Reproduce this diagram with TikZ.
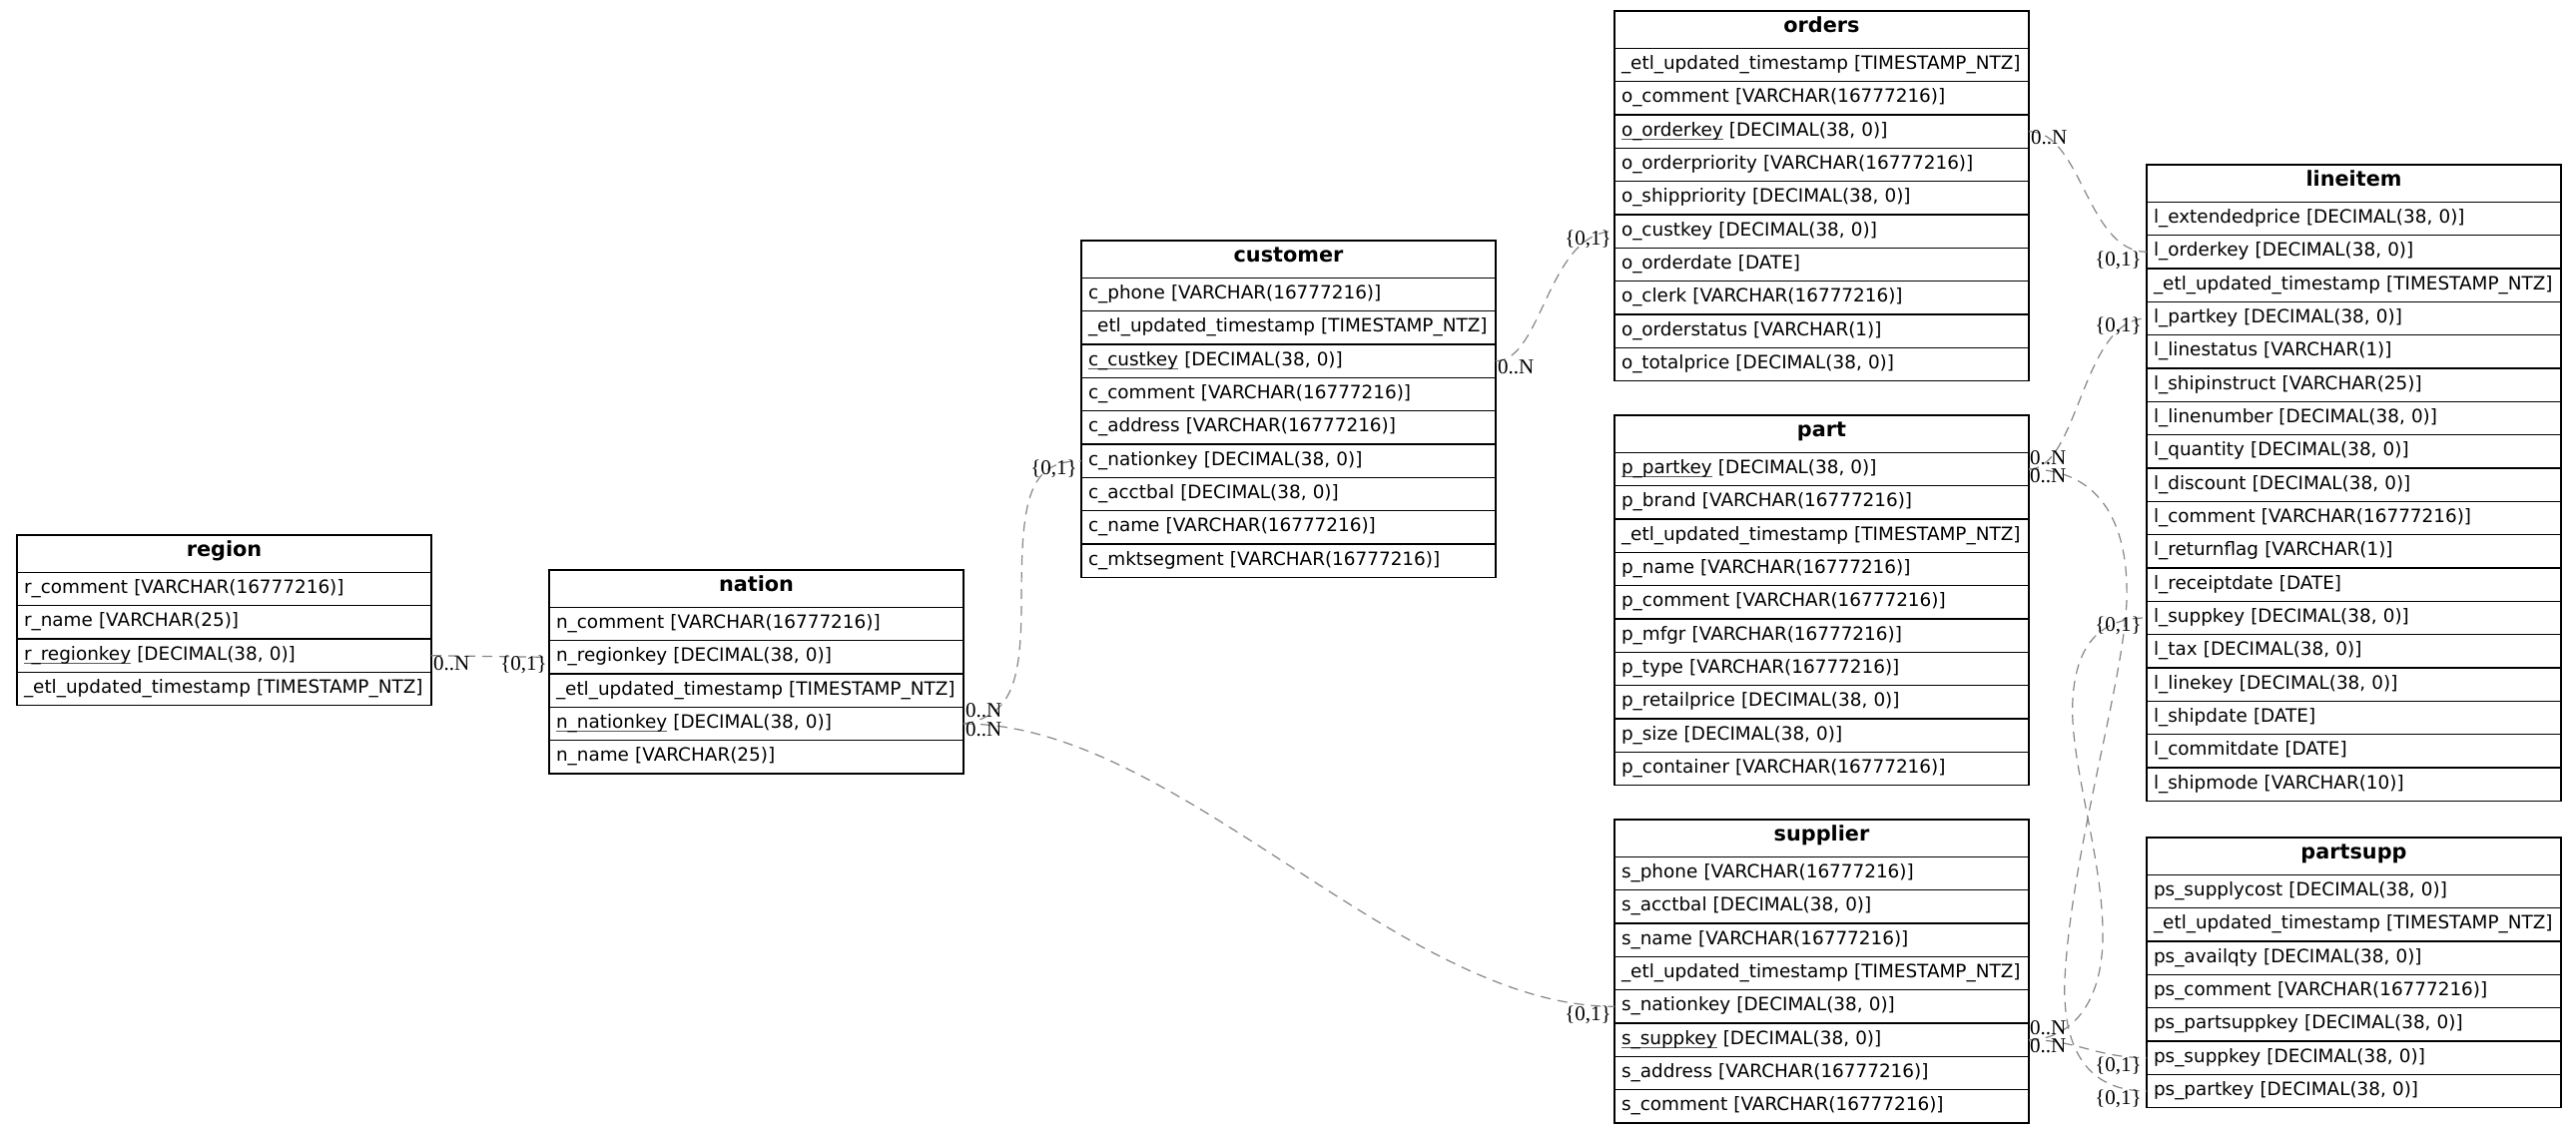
\documentclass[tikz,border=0pt]{standalone}
\usepackage{fontspec}
\setmainfont{DejaVu Sans}
\newfontfamily\cardfont{Liberation Serif}
\usetikzlibrary{calc}

\definecolor{relgray}{RGB}{135,135,135}
\definecolor{keygray}{RGB}{90,90,90}

% underlined primary key column name
\newsavebox\pkbox
\newcommand\pkey[1]{\leavevmode\sbox\pkbox{#1}\rlap{\textcolor{keygray}{\rule[-3.6pt]{\wd\pkbox}{1.2pt}}}\usebox\pkbox}

\tikzset{
  cell/.style={draw=black, line width=1.3pt, minimum width=415pt, inner xsep=7pt, inner ysep=0pt, outer sep=0pt},
  headcell/.style={cell, minimum height=37.33pt, text width=401pt, align=center,
    text height=15pt, text depth=9pt, font=\fontsize{20.8}{24}\selectfont\bfseries},
  rowcell/.style={cell, minimum height=33.33pt, text width=401pt, align=left,
    text height=13.5pt, text depth=4.5pt, font=\fontsize{18.4}{22}\selectfont},
  rel/.style={draw=relgray, line width=1.2pt, dash pattern=on 10pt off 7pt},
  card/.style={inner sep=0pt, font=\cardfont\fontsize{21}{24}\selectfont},
}

% a table: name, left x, top y, title, list of column rows
\newcommand\erdtable[5]{%
  \node[headcell, anchor=north west] (#1) at (#2,#3) {#4};
  \foreach \txt [count=\i] in {#5} {
    \pgfmathsetmacro\rowtop{#3+37.33+(\i-1)*33.33}
    \node[rowcell, anchor=north west] (#1-\i) at (#2,\rowtop) {\txt};
  }%
}

\begin{document}
\begin{tikzpicture}[x=1pt,y=-1pt]
\fill[white] (0,0) rectangle (2580,1136);
\useasboundingbox (0,0) rectangle (2580,1136);

\erdtable{region}{17}{536}{region}{%
  {r\_comment [VARCHAR(16777216)]},
  {r\_name [VARCHAR(25)]},
  {\pkey{r\_regionkey} [DECIMAL(38, 0)]},
  {\_etl\_updated\_timestamp [TIMESTAMP\_NTZ]}}

\erdtable{nation}{550}{571}{nation}{%
  {n\_comment [VARCHAR(16777216)]},
  {n\_regionkey [DECIMAL(38, 0)]},
  {\_etl\_updated\_timestamp [TIMESTAMP\_NTZ]},
  {\pkey{n\_nationkey} [DECIMAL(38, 0)]},
  {n\_name [VARCHAR(25)]}}

\erdtable{customer}{1083}{241}{customer}{%
  {c\_phone [VARCHAR(16777216)]},
  {\_etl\_updated\_timestamp [TIMESTAMP\_NTZ]},
  {\pkey{c\_custkey} [DECIMAL(38, 0)]},
  {c\_comment [VARCHAR(16777216)]},
  {c\_address [VARCHAR(16777216)]},
  {c\_nationkey [DECIMAL(38, 0)]},
  {c\_acctbal [DECIMAL(38, 0)]},
  {c\_name [VARCHAR(16777216)]},
  {c\_mktsegment [VARCHAR(16777216)]}}

\erdtable{orders}{1617}{11}{orders}{%
  {\_etl\_updated\_timestamp [TIMESTAMP\_NTZ]},
  {o\_comment [VARCHAR(16777216)]},
  {\pkey{o\_orderkey} [DECIMAL(38, 0)]},
  {o\_orderpriority [VARCHAR(16777216)]},
  {o\_shippriority [DECIMAL(38, 0)]},
  {o\_custkey [DECIMAL(38, 0)]},
  {o\_orderdate [DATE]},
  {o\_clerk [VARCHAR(16777216)]},
  {o\_orderstatus [VARCHAR(1)]},
  {o\_totalprice [DECIMAL(38, 0)]}}

\erdtable{part}{1617}{416}{part}{%
  {\pkey{p\_partkey} [DECIMAL(38, 0)]},
  {p\_brand [VARCHAR(16777216)]},
  {\_etl\_updated\_timestamp [TIMESTAMP\_NTZ]},
  {p\_name [VARCHAR(16777216)]},
  {p\_comment [VARCHAR(16777216)]},
  {p\_mfgr [VARCHAR(16777216)]},
  {p\_type [VARCHAR(16777216)]},
  {p\_retailprice [DECIMAL(38, 0)]},
  {p\_size [DECIMAL(38, 0)]},
  {p\_container [VARCHAR(16777216)]}}

\erdtable{supplier}{1617}{821}{supplier}{%
  {s\_phone [VARCHAR(16777216)]},
  {s\_acctbal [DECIMAL(38, 0)]},
  {s\_name [VARCHAR(16777216)]},
  {\_etl\_updated\_timestamp [TIMESTAMP\_NTZ]},
  {s\_nationkey [DECIMAL(38, 0)]},
  {\pkey{s\_suppkey} [DECIMAL(38, 0)]},
  {s\_address [VARCHAR(16777216)]},
  {s\_comment [VARCHAR(16777216)]}}

\erdtable{lineitem}{2150}{165}{lineitem}{%
  {l\_extendedprice [DECIMAL(38, 0)]},
  {l\_orderkey [DECIMAL(38, 0)]},
  {\_etl\_updated\_timestamp [TIMESTAMP\_NTZ]},
  {l\_partkey [DECIMAL(38, 0)]},
  {l\_linestatus [VARCHAR(1)]},
  {l\_shipinstruct [VARCHAR(25)]},
  {l\_linenumber [DECIMAL(38, 0)]},
  {l\_quantity [DECIMAL(38, 0)]},
  {l\_discount [DECIMAL(38, 0)]},
  {l\_comment [VARCHAR(16777216)]},
  {l\_returnflag [VARCHAR(1)]},
  {l\_receiptdate [DATE]},
  {l\_suppkey [DECIMAL(38, 0)]},
  {l\_tax [DECIMAL(38, 0)]},
  {l\_linekey [DECIMAL(38, 0)]},
  {l\_shipdate [DATE]},
  {l\_commitdate [DATE]},
  {l\_shipmode [VARCHAR(10)]}}

\erdtable{partsupp}{2150}{839}{partsupp}{%
  {ps\_supplycost [DECIMAL(38, 0)]},
  {\_etl\_updated\_timestamp [TIMESTAMP\_NTZ]},
  {ps\_availqty [DECIMAL(38, 0)]},
  {ps\_comment [VARCHAR(16777216)]},
  {ps\_partsuppkey [DECIMAL(38, 0)]},
  {ps\_suppkey [DECIMAL(38, 0)]},
  {ps\_partkey [DECIMAL(38, 0)]}}

% bend points of the longer relations
\coordinate (w1) at (1023,600);
\coordinate (w2) at (2130,600);
\coordinate (w3) at (2068,980);
\coordinate (w4) at (2106,930);
\coordinate (w5) at (2076,700);

% relations
\draw[rel] (region-3.east) -- (nation-2.west);
\draw[rel] (nation-4.east) .. controls +(50,-8) and +(0,80) .. (w1)
  .. controls +(0,-100) and +(-53,0) .. (customer-6.west);
\draw[rel] (nation-4.east) .. controls +(215,0) and +(-216,0) .. (supplier-5.west);
\draw[rel] (customer-3.east) .. controls +(47,0) and +(-67,0) .. (orders-6.west);
\draw[rel] (orders-3.east) .. controls +(53,0) and +(-60,0) .. (lineitem-2.west);
\draw[rel] (part-1.east) .. controls +(50,0) and +(-65,0) .. (lineitem-4.west);
\draw[rel] (part-1.east) .. controls +(68,0) and +(2,-80) .. (w2)
  .. controls +(-2,80) and +(7,-130) .. (w3)
  .. controls +(-3,70) and +(-60,0) .. (partsupp-7.west);
\draw[rel] (supplier-6.east) .. controls +(38,0) and +(2,80) .. (w4)
  .. controls +(-2,-80) and +(-4,60) .. (w5)
  .. controls +(3,-50) and +(-50,0) .. (lineitem-13.west);
\draw[rel] (supplier-6.east) .. controls +(48,0) and +(-50,0) .. (partsupp-6.west);

% cardinalities
\node[card, anchor=base west] (m1) at ($(region-3.east)+(2,15)$) {0..N};
\node[card, anchor=base east] (o1) at ($(nation-2.west)+(-2,13)$) {\{0,1\}};
\node[card, anchor=base west] (m2) at ($(nation-4.east)+(2,-6)$) {0..N};
\node[card, anchor=base west] (m3) at ($(nation-4.east)+(2,13)$) {0..N};
\node[card, anchor=base east] (o2) at ($(customer-6.west)+(-4,14)$) {\{0,1\}};
\node[card, anchor=base east] (o3) at ($(supplier-5.west)+(-3,14)$) {\{0,1\}};
\node[card, anchor=base west] (m4) at ($(customer-3.east)+(2,13)$) {0..N};
\node[card, anchor=base east] (o4) at ($(orders-6.west)+(-3,14)$) {\{0,1\}};
\node[card, anchor=base west] (m5) at ($(orders-3.east)+(2,13)$) {0..N};
\node[card, anchor=base east] (o5) at ($(lineitem-2.west)+(-5,14)$) {\{0,1\}};
\node[card, anchor=base west] (m6) at ($(part-1.east)+(1,-5)$) {0..N};
\node[card, anchor=base west] (m7) at ($(part-1.east)+(1,13)$) {0..N};
\node[card, anchor=base east] (o6) at ($(lineitem-4.west)+(-5,14)$) {\{0,1\}};
\node[card, anchor=base east] (o7) at ($(lineitem-13.west)+(-5,14)$) {\{0,1\}};
\node[card, anchor=base west] (m8) at ($(supplier-6.east)+(1,-5)$) {0..N};
\node[card, anchor=base west] (m9) at ($(supplier-6.east)+(1,13)$) {0..N};
\node[card, anchor=base east] (o8) at ($(partsupp-6.west)+(-5,14)$) {\{0,1\}};
\node[card, anchor=base east] (o9) at ($(partsupp-7.west)+(-5,14)$) {\{0,1\}};
\end{tikzpicture}
\end{document}
